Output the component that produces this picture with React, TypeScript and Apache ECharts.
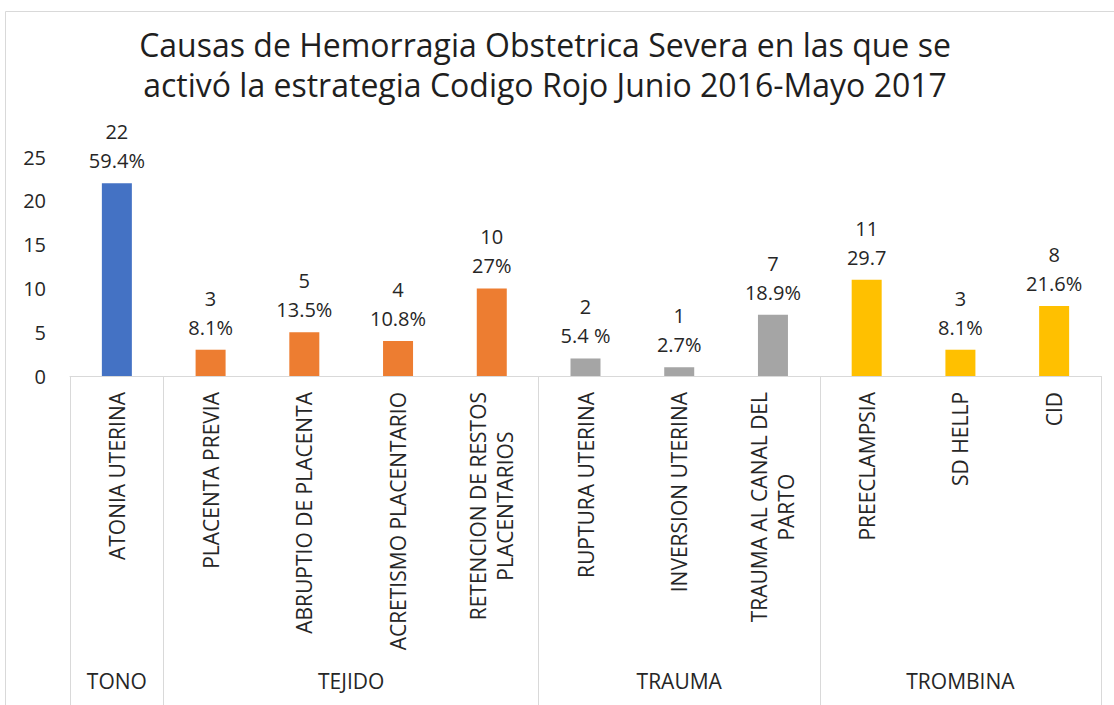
import React, { useEffect, useRef } from "react";
import * as echarts from "echarts";

const titleLines = [
  "Causas de Hemorragia Obstetrica Severa en las que se",
  "activó la estrategia Codigo Rojo Junio 2016-Mayo 2017",
];
const categories = [
  "ATONIA UTERINA",
  "PLACENTA PREVIA",
  "ABRUPTIO DE PLACENTA",
  "ACRETISMO PLACENTARIO",
  "RETENCION DE RESTOS\nPLACENTARIOS",
  "RUPTURA UTERINA",
  "INVERSION UTERINA",
  "TRAUMA AL CANAL DEL\nPARTO",
  "PREECLAMPSIA",
  "SD HELLP",
  "CID",
];
const groupOf = [
  "TONO",
  "TEJIDO",
  "TEJIDO",
  "TEJIDO",
  "TEJIDO",
  "TRAUMA",
  "TRAUMA",
  "TRAUMA",
  "TROMBINA",
  "TROMBINA",
  "TROMBINA",
];
const values = [22, 3, 5, 4, 10, 2, 1, 7, 11, 3, 8];
const percents = ["59.4%", "8.1%", "13.5%", "10.8%", "27%", "5.4 %", "2.7%", "18.9%", "29.7", "8.1%", "21.6%"];
const groups = ["TONO", "TEJIDO", "TRAUMA", "TROMBINA"];
const groupColors: Record<string, string> = {
  TONO: "#4472C4",
  TEJIDO: "#ED7D31",
  TRAUMA: "#A5A5A5",
  TROMBINA: "#FFC000",
};
const yMin = 0;
const yMax = 25;
const yStep = 5;

const FONT = "'Open Sans', sans-serif";
const TEXT = "#262626";
const LINE = "#D9D9D9";

export default function App() {
  const ref = useRef<HTMLDivElement>(null);

  useEffect(() => {
    if (!ref.current) return;
    const chart = echarts.init(ref.current, undefined, { renderer: "svg" });

    const boundaries: number[] = [0];
    const centers: number[] = [];
    groups.forEach((g) => {
      const first = groupOf.indexOf(g);
      const last = groupOf.lastIndexOf(g) + 1;
      boundaries.push(last);
      centers.push((first + last) / 2);
    });

    chart.setOption({
      animation: false,
      backgroundColor: "#ffffff",
      title: {
        text: titleLines.join("\n"),
        left: 540,
        top: 19,
        textAlign: "center",
        textStyle: {
          fontFamily: FONT,
          fontSize: 32,
          fontWeight: "normal",
          color: "#1f1f1f",
          lineHeight: 40,
        },
      },
      graphic: [
        {
          type: "rect",
          shape: { x: 5.5, y: 11.5, width: 1300, height: 900 },
          style: { fill: "none", stroke: LINE, lineWidth: 1 },
          silent: true,
          z: -10,
        },
      ],
      grid: { left: 70, right: 13, top: 157, bottom: 329, containLabel: false },
      xAxis: [
        {
          type: "category",
          data: categories,
          axisLine: { show: true, lineStyle: { color: LINE, width: 1 } },
          axisTick: { show: false },
          axisLabel: {
            interval: 0,
            rotate: 90,
            margin: 16,
            formatter: (v: string) =>
              v
                .split("\n")
                .map((l) => `{c|${l}}`)
                .join("\n"),
            rich: {
              c: {
                align: "center",
                fontFamily: FONT,
                fontSize: 21,
                color: TEXT,
                lineHeight: 27,
              },
            },
          },
          splitLine: { show: false },
        },
        {
          type: "value",
          min: 0,
          max: categories.length,
          position: "bottom",
          axisLine: { show: false },
          splitLine: { show: false },
          axisTick: {
            show: true,
            customValues: boundaries,
            length: 340,
            lineStyle: { color: LINE, width: 1 },
          },
          axisLabel: {
            show: true,
            customValues: centers,
            margin: 294,
            fontFamily: FONT,
            fontSize: 21,
            color: TEXT,
            formatter: (v: number) => {
              const i = centers.findIndex((c) => Math.abs(c - v) < 1e-6);
              return i >= 0 ? groups[i] : "";
            },
          },
        },
      ],
      yAxis: {
        type: "value",
        min: yMin,
        max: yMax,
        interval: yStep,
        axisLine: { show: false },
        axisTick: { show: false },
        splitLine: { show: false },
        axisLabel: {
          margin: 24,
          fontFamily: FONT,
          fontSize: 20,
          color: TEXT,
        },
      },
      series: [
        {
          type: "bar",
          xAxisIndex: 0,
          barWidth: 30,
          data: values.map((v, i) => ({
            value: v,
            itemStyle: { color: groupColors[groupOf[i]] },
          })),
          label: {
            show: true,
            position: "top",
            distance: 8,
            fontFamily: FONT,
            fontSize: 20,
            lineHeight: 29,
            color: TEXT,
            align: "center",
            formatter: (p: any) => `${values[p.dataIndex]}\n${percents[p.dataIndex]}`,
          },
        },
      ],
    });

    return () => chart.dispose();
  }, []);

  return (
    <div
      ref={ref}
      style={{ position: "fixed", left: 0, top: 0, width: 1114, height: 705, background: "#fff" }}
    />
  );
}
